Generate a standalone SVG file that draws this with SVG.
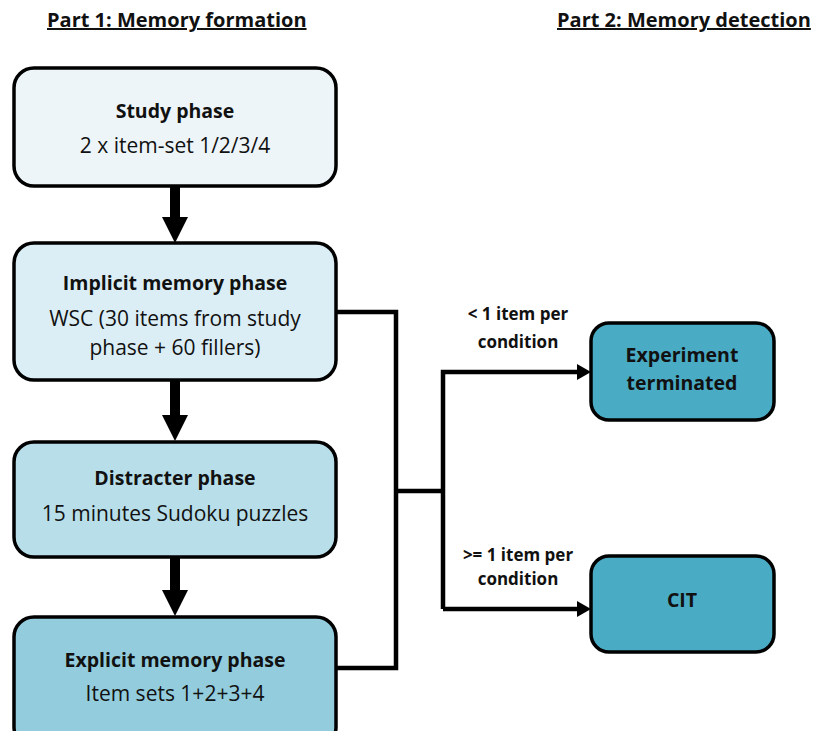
<svg xmlns="http://www.w3.org/2000/svg" width="813" height="731" viewBox="0 0 813 731">
<style>
text{font-family:"Open Sans","Liberation Sans",sans-serif;fill:#111;text-anchor:middle}
.h{font-size:20px;font-weight:bold;text-decoration:underline;text-anchor:start}
.t{font-size:19.5px;font-weight:bold}
.s{font-size:21px}
.l{font-size:17px;font-weight:bold}
.box{stroke:#000;stroke-width:3.5}
.ln{fill:none;stroke:#000;stroke-width:4.5}
</style>
<text class="h" x="47" y="27">Part 1: Memory formation</text>
<text class="h" x="557" y="27">Part 2: Memory detection</text>
<g id="study"><rect class="box" x="14" y="68" width="322" height="118" rx="20" fill="#eef5f9"/>
<text class="t" x="175" y="118">Study phase</text><text class="s" x="175" y="153">2 x item-set 1/2/3/4</text></g>
<g id="implicit"><rect class="box" x="14" y="243" width="322" height="137" rx="20" fill="#dceef5"/>
<text class="t" x="175" y="290">Implicit memory phase</text><text class="s" x="175" y="326">WSC (30 items from study</text><text class="s" x="175" y="355">phase + 60 fillers)</text></g>
<g id="distracter"><rect class="box" x="14" y="442" width="322" height="115" rx="20" fill="#b8dfe9"/>
<text class="t" x="175" y="485">Distracter phase</text><text class="s" x="175" y="521">15 minutes Sudoku puzzles</text></g>
<g id="explicit"><rect class="box" x="14" y="617" width="322" height="130" rx="20" fill="#93cddd"/>
<text class="t" x="175" y="667">Explicit memory phase</text><text class="s" x="175" y="701">Item sets 1+2+3+4</text></g>
<g id="terminated"><rect class="box" x="591" y="323" width="183" height="97" rx="18" fill="#4aabc4"/>
<text class="t" x="682" y="362">Experiment</text><text class="t" x="682" y="390">terminated</text></g>
<g id="cit"><rect class="box" x="591" y="556" width="183" height="96" rx="18" fill="#4aabc4"/>
<text class="t" x="682" y="607">CIT</text></g>
<g id="connectors">
<path d="M175,186 V218" stroke="#000" stroke-width="10"/><path d="M162,217 H188 L175,243 z"/>
<path d="M175,380 V416" stroke="#000" stroke-width="10"/><path d="M162,415 H188 L175,441 z"/>
<path d="M175,557 V591" stroke="#000" stroke-width="10"/><path d="M162,590 H188 L175,616 z"/>
<path class="ln" d="M336,312 H396 V668 H336"/>
<path class="ln" d="M396,491 H443"/>
<path class="ln" d="M443,609 V372 H580"/>
<path class="ln" d="M443,609 H580"/>
<path d="M577,364 L591,372 L577,380 z"/>
<path d="M577,601 L591,609 L577,617 z"/>
<text class="l" x="518" y="320">&lt; 1 item per</text><text class="l" x="518" y="348">condition</text>
<text class="l" x="518" y="561">&gt;= 1 item per</text><text class="l" x="518" y="585">condition</text>
</g>
</svg>
